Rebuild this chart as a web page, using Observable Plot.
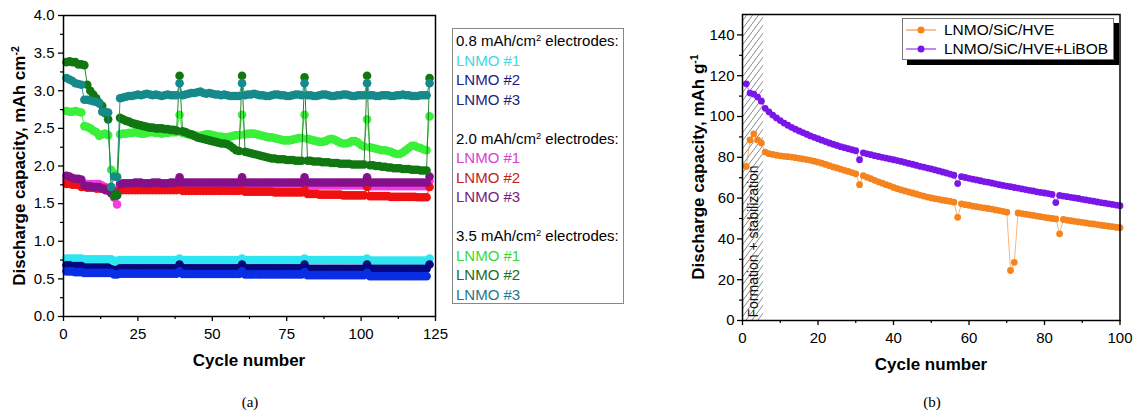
<!DOCTYPE html>
<html><head><meta charset="utf-8">
<script src="https://cdn.jsdelivr.net/npm/d3@7"></script>
<script src="https://cdn.jsdelivr.net/npm/@observablehq/plot@0.6"></script>
<style>
body{margin:0;background:#fff;font-family:"Liberation Sans",Arial,sans-serif;}
#root{position:relative;width:1139px;height:417px;overflow:hidden;background:#fff;}
.panel{position:absolute;top:0;}
.ylab{position:absolute;white-space:nowrap;font-weight:bold;font-size:17px;transform:translate(-50%,-50%) rotate(-90deg);}
.xlab{position:absolute;white-space:nowrap;font-weight:bold;font-size:17px;transform:translate(-50%,-50%);}
.cap{position:absolute;font-family:"Liberation Serif","Times New Roman",serif;font-size:15px;transform:translate(-50%,-50%);}
sup{font-size:0.62em;vertical-align:0.55em;line-height:0;}
#legA{position:absolute;left:452px;top:28px;width:172px;height:276px;border:1px solid #888;box-sizing:border-box;padding:2px 0 0 3px;font-size:15px;line-height:19.5px;white-space:nowrap;background:#fff;}
#legB{position:absolute;left:902px;top:18px;width:212px;height:42px;border:1px solid #777;box-sizing:border-box;background:#fff;box-shadow:5px 5px 0 #000;padding:1px 0 0 2px;font-size:15.5px;line-height:19.3px;white-space:nowrap;}
#legB .row{display:flex;align-items:center;height:19.3px;}
#legB svg{margin-right:7px;}
</style>
</head><body>
<div id="root">
  <div class="panel" id="pa" style="left:0"></div>
  <div class="panel" id="pb" style="left:680px"></div>
  <div id="legA"></div>
  <div id="legB"></div>
  <div class="ylab" style="left:20px;top:166px">Discharge capacity, mAh cm<sup>-2</sup></div>
  <div class="xlab" style="left:249px;top:361px">Cycle number</div>
  <div class="ylab" style="left:699px;top:167px">Discharge capacity, mAh g<sup>-1</sup></div>
  <div class="xlab" style="left:931px;top:365px">Cycle number</div>
  <div class="cap" style="left:250px;top:402px">(a)</div>
  <div class="cap" style="left:932px;top:402px">(b)</div>
</div>
<script>
// ---------- Panel (a) data: discharge capacity (mAh cm^-2) per cycle, cycles 1..n ----------
const cyan08 = [0.77,0.77,0.77,0.77,0.77,0.77, 0.76,0.76,0.76,0.76,0.76,0.76,0.76,0.76,0.76,0.76, 0.74,0.74,
 0.75,0.75,0.75,0.75,0.75,0.75,0.75,0.75,0.75,0.75,0.75,0.75,0.75,0.75,0.75,0.75,0.75,0.75,0.75,0.75, 0.77,
 0.75,0.75,0.75,0.75,0.75,0.75,0.75,0.75,0.75,0.75,0.75,0.75,0.75,0.75,0.75,0.75,0.75,0.75,0.75,0.75, 0.77,
 0.75,0.75,0.75,0.75,0.75,0.75,0.75,0.75,0.75,0.75,0.75,0.75,0.75,0.75,0.75,0.75,0.75,0.75,0.75,0.75, 0.77,
 0.75,0.75,0.75,0.75,0.75,0.75,0.75,0.75,0.75,0.75,0.75,0.75,0.75,0.75,0.75,0.75,0.75,0.75,0.75,0.75, 0.77,
 0.745,0.745,0.745,0.745,0.745,0.745,0.745,0.745,0.745,0.745,0.745,0.745,0.745,0.745,0.745,0.745,0.745,0.745,0.745,0.745, 0.77];
const navy08 = [0.68,0.68,0.67,0.67,0.67,0.67, 0.65,0.65,0.65,0.65,0.65,0.65,0.65,0.65,0.65, 0.63,0.62,0.62,
 0.64,0.64,0.64,0.64,0.64,0.64,0.64,0.64,0.64,0.64,0.64,0.64,0.64,0.64,0.64,0.64,0.64,0.64,0.64,0.64, 0.69,
 0.64,0.64,0.64,0.64,0.64,0.64,0.64,0.64,0.64,0.64,0.64,0.64,0.64,0.64,0.64,0.64,0.64,0.64,0.64,0.64, 0.69,
 0.64,0.64,0.64,0.64,0.64,0.64,0.64,0.64,0.64,0.64,0.64,0.64,0.64,0.64,0.64,0.64,0.64,0.64,0.64,0.64, 0.69,
 0.635,0.635,0.635,0.635,0.635,0.635,0.635,0.635,0.635,0.635,0.635,0.635,0.635,0.635,0.635,0.635,0.635,0.635,0.635,0.635, 0.69,
 0.635,0.635,0.635,0.635,0.635,0.635,0.635,0.635,0.635,0.635,0.635,0.635,0.635,0.635,0.635,0.635,0.635,0.635,0.635,0.635, 0.69];
const blue08 = [0.6,0.6,0.6,0.59,0.59,0.59, 0.58,0.58,0.58,0.58,0.58,0.58,0.58,0.58,0.58,0.58, 0.56,0.56,
 0.57,0.57,0.57,0.57,0.57,0.57,0.57,0.57,0.57,0.57,0.57,0.57,0.57,0.57,0.57,0.57,0.57,0.57,0.57,0.57, 0.6,
 0.565,0.565,0.565,0.565,0.565,0.565,0.565,0.565,0.565,0.565,0.565,0.565,0.565,0.565,0.565,0.565,0.565,0.565,0.565,0.565, 0.6,
 0.56,0.56,0.56,0.56,0.56,0.56,0.56,0.56,0.56,0.56,0.56,0.56,0.56,0.56,0.56,0.56,0.56,0.56,0.56,0.56, 0.59,
 0.55,0.55,0.55,0.55,0.55,0.55,0.55,0.55,0.55,0.55,0.55,0.55,0.55,0.55,0.55,0.55,0.55,0.55,0.55,0.55, 0.58,
 0.535,0.535,0.535,0.535,0.535,0.535,0.535,0.535,0.535,0.535,0.535,0.535,0.535,0.535,0.535,0.535,0.535,0.535,0.535,0.535];
const magenta20 = [1.81,1.8,1.8,1.8,1.79,1.79, 1.76,1.76,1.76,1.76,1.76,1.76, 1.74,1.72,1.7, 1.66,1.58,1.49,
 1.75,1.75,1.75,1.75,1.75,1.75,1.75,1.75,1.75,1.75,1.75,1.75,1.75,1.75,1.75,1.75,1.75,1.75,1.75,1.75, 1.8,
 1.75,1.75,1.75,1.75,1.75,1.75,1.75,1.75,1.75,1.75,1.75,1.75,1.75,1.75,1.75,1.75,1.75,1.75,1.75,1.75, 1.8,
 1.74,1.74,1.74,1.74,1.74,1.74,1.74,1.74,1.74,1.74,1.74,1.74,1.74,1.74,1.74,1.74,1.74,1.74,1.74,1.74, 1.8,
 1.74,1.74,1.74,1.74,1.74,1.74,1.74,1.74,1.74,1.74,1.74,1.74,1.74,1.74,1.74,1.74,1.74,1.74,1.74,1.74, 1.8,
 1.73,1.73,1.73,1.73,1.73,1.73,1.73,1.73,1.73,1.73,1.73,1.73,1.73,1.73,1.73,1.73,1.73,1.73,1.73,1.73, 1.8];
const red20 = [1.76,1.76,1.75,1.75,1.75, 1.72,1.72,1.71,1.71,1.71,1.7,1.7,1.7,1.7,1.69,1.69, 1.67,1.66,
 1.68,1.68,1.68,1.68,1.68,1.68,1.68,1.68,1.68,1.68,1.68,1.68,1.68,1.68,1.68,1.68,1.68,1.68,1.68,1.68, 1.69,
 1.67,1.67,1.67,1.67,1.67,1.67,1.67,1.67,1.67,1.67,1.67,1.67,1.67,1.67,1.67,1.67,1.67,1.67,1.67,1.67, 1.68,
 1.66,1.66,1.66,1.66,1.66,1.66,1.66,1.66,1.66,1.66,1.65,1.65,1.65,1.65,1.65,1.65,1.65,1.65,1.65,1.65, 1.68,
 1.63,1.63,1.63,1.63,1.62,1.62,1.62,1.62,1.62,1.62,1.62,1.62,1.61,1.61,1.61,1.61,1.61,1.61,1.61,1.61, 1.72,
 1.6,1.6,1.6,1.6,1.6,1.6,1.6,1.59,1.59,1.59,1.59,1.59,1.59,1.59,1.59,1.59,1.585,1.585,1.585,1.585, 1.72];
const purple20 = [1.87,1.86,1.84,1.83,1.83,1.82, 1.74,1.73,1.73,1.72,1.72,1.72, 1.7,1.68,1.67, 1.64,1.62,1.61,
 1.76,1.77,1.77,1.77,1.77,1.78,1.78,1.78,1.77,1.77,1.77,1.78,1.78,1.78,1.77,1.77,1.77,1.78,1.78,1.78, 1.85,
 1.78,1.78,1.78,1.78,1.78,1.78,1.78,1.78,1.78,1.78,1.78,1.78,1.78,1.78,1.78,1.78,1.78,1.78,1.78,1.78, 1.85,
 1.78,1.78,1.78,1.78,1.78,1.78,1.78,1.78,1.78,1.78,1.78,1.78,1.78,1.78,1.78,1.78,1.78,1.78,1.78,1.78, 1.85,
 1.78,1.78,1.78,1.78,1.78,1.78,1.78,1.78,1.78,1.78,1.78,1.78,1.78,1.78,1.78,1.78,1.78,1.78,1.78,1.78, 1.85,
 1.78,1.78,1.78,1.78,1.78,1.78,1.78,1.78,1.78,1.78,1.78,1.78,1.78,1.78,1.78,1.78,1.78,1.78,1.78,1.78, 1.86];
const green35_1 = [2.73,2.72,2.72,2.73,2.72,2.71, 2.53,2.52,2.5,2.47,2.45, 2.4,2.42,2.43,2.41, 1.95,1.9,1.86,
 2.42,2.43,2.43,2.44,2.44,2.45,2.44,2.43,2.43,2.44,2.45,2.45,2.44,2.44,2.43,2.44,2.44,2.45,2.45,2.45, 2.68,
 2.44,2.43,2.42,2.41,2.41,2.4,2.4,2.41,2.42,2.42,2.41,2.4,2.39,2.39,2.38,2.38,2.39,2.4,2.41,2.41, 2.68,
 2.42,2.43,2.43,2.43,2.42,2.41,2.4,2.39,2.38,2.38,2.37,2.36,2.35,2.34,2.34,2.34,2.35,2.36,2.37,2.37, 2.68,
 2.36,2.35,2.34,2.33,2.32,2.32,2.33,2.35,2.36,2.35,2.33,2.31,2.3,2.3,2.31,2.33,2.33,2.31,2.28,2.26, 2.62,
 2.25,2.24,2.23,2.22,2.21,2.21,2.2,2.19,2.17,2.16,2.16,2.18,2.21,2.24,2.27,2.27,2.25,2.24,2.22,2.21, 2.66];
const green35_2 = [3.38,3.39,3.38,3.38,3.35,3.35,3.34, 3.08,3.0,2.95,2.9,2.84,2.8,2.7,2.62, 1.72,1.6,1.62,
 2.64,2.62,2.6,2.59,2.57,2.56,2.55,2.54,2.53,2.52,2.51,2.51,2.5,2.5,2.5,2.49,2.49,2.48,2.48,2.47, 3.2,
 2.46,2.45,2.43,2.42,2.4,2.38,2.37,2.36,2.35,2.34,2.33,2.32,2.31,2.3,2.3,2.29,2.27,2.24,2.21,2.2, 3.2,
 2.19,2.18,2.17,2.16,2.15,2.14,2.13,2.12,2.11,2.1,2.1,2.09,2.09,2.09,2.08,2.08,2.08,2.07,2.07,2.07, 3.18,
 2.07,2.07,2.06,2.06,2.06,2.05,2.05,2.05,2.04,2.04,2.04,2.03,2.03,2.03,2.03,2.02,2.02,2.02,2.02,2.02, 3.2,
 2.01,2.01,2.0,2.0,1.99,1.99,1.98,1.98,1.97,1.97,1.97,1.96,1.96,1.96,1.95,1.95,1.95,1.94,1.94,1.94, 3.17];
const teal35_3 = [3.17,3.15,3.13,3.1,3.09,3.08, 2.88,2.88,2.87,2.86,2.85,2.83, 2.72,2.72,2.71, 1.72,1.86,1.85,
 2.9,2.91,2.92,2.93,2.93,2.94,2.95,2.94,2.95,2.96,2.95,2.94,2.95,2.94,2.93,2.94,2.95,2.94,2.94,2.94, 3.1,
 2.94,2.95,2.96,2.97,2.97,2.98,2.99,2.97,2.96,2.97,2.96,2.95,2.95,2.94,2.95,2.94,2.93,2.93,2.93,2.93, 3.1,
 2.94,2.95,2.95,2.96,2.95,2.94,2.94,2.93,2.93,2.94,2.95,2.95,2.94,2.94,2.93,2.93,2.94,2.95,2.95,2.94, 3.1,
 2.94,2.94,2.93,2.93,2.94,2.95,2.95,2.94,2.93,2.93,2.94,2.94,2.95,2.95,2.94,2.93,2.93,2.94,2.94,2.94, 3.1,
 2.94,2.94,2.93,2.93,2.94,2.94,2.94,2.93,2.93,2.94,2.94,2.95,2.94,2.94,2.93,2.93,2.93,2.94,2.94,2.94, 3.1];

const groupTitles = ["0.8", "2.0", "3.5"];
const cellNames = ["LNMO #1", "LNMO #2", "LNMO #3"];
const xTicksA = [0, 25, 50, 75, 100, 125];
const xMinorA = [12.5, 37.5, 62.5, 87.5, 112.5];
const yTicksA = [0, 0.5, 1, 1.5, 2, 2.5, 3, 3.5, 4];
const yMinorA = [0.25, 0.75, 1.25, 1.75, 2.25, 2.75, 3.25, 3.75];

// ---------- Panel (b) data: discharge capacity (mAh g^-1), cycles 1..100 ----------
const hve = [75.5,88.5,91.5,88.5,87,82.5,81.8,81.4,81,80.7,80.5,80.3,80.1,79.8,79.5,79.2,78.9,78.5,78.1,77.6,
 77.1,76.5,75.9,75.3,74.8,74.2,73.6,73.1,72.5,71.9,66.6,71,70.2,69.5,68.7,68,67.3,66.6,66,65.2,
 64.6,64,63.5,63,62.5,62,61.5,61,60.5,60.1,59.7,59.4,59,58.7,58.4,58,50.6,57.2,56.8,56.5,
 56.1,55.8,55.5,55.2,54.9,54.6,54.2,53.9,53.5,53.1,24.5,28.5,52.7,52.4,52.1,51.8,51.5,51.2,50.9,50.6,
 50.3,50,49.8,42.5,49.5,49.2,48.9,48.6,48.3,48.1,47.8,47.5,47.3,47,46.7,46.5,46.2,46,45.7,45.5];
const hveLiBOB = [116,111.5,111,109.5,107.5,104,102.3,100.7,99.3,98,96.8,95.7,94.7,93.8,92.9,92.1,91.3,90.5,89.8,89.1,
 88.4,87.7,87,86.4,85.8,85.2,84.7,84.2,83.7,83.2,78.8,82.2,81.7,81.3,80.8,80.4,80,79.6,79.2,78.8,
 78.4,78,77.5,77,76.6,76.1,75.6,75.2,74.7,74.3,73.8,73.3,72.8,72.3,71.8,71.2,67.1,70.5,70.1,69.7,
 69.3,68.9,68.5,68.1,67.8,67.4,67,66.6,66.2,65.9,65.6,65.2,64.9,64.5,64.2,63.8,63.5,63.1,62.8,62.5,
 62.2,61.8,57.8,61.3,61,60.7,60.4,60.1,59.8,59.4,59.1,58.8,58.5,58.1,57.8,57.5,57.2,56.9,56.6,56.3];
const seriesNamesB = ["LNMO/SiC/HVE", "LNMO/SiC/HVE+LiBOB"];
const formationCycles = [0, 5.6];
const formationLabel = "Formation + stabilization";
const xTicksB = [0, 20, 40, 60, 80, 100];
const xMinorB = [10, 30, 50, 70, 90];
const yTicksB = [0, 20, 40, 60, 80, 100, 120, 140];
const yMinorB = [10, 30, 50, 70, 90, 110, 130];

// ---------- styles ----------
const colorsA = {
  "0.8": ["#2ee6f2", "#06087e", "#0a2ee6"],
  "2.0": ["#f03ce0", "#f01010", "#85108a"],
  "3.5": ["#3af03a", "#117711", "#168a8a"]
};
const legendTextColorsA = {
  "0.8": ["#3fd8e2", "#1c1c84", "#1c2474"],
  "2.0": ["#d840d0", "#c02420", "#7a1a7c"],
  "3.5": ["#38d838", "#236b23", "#23798a"]
};
const colorsB = ["#f5841f", "#7b16e8"];
const font = '"Liberation Sans", Arial, sans-serif';

const valuesA = {"0.8": [cyan08, navy08, blue08], "2.0": [magenta20, red20, purple20], "3.5": [green35_1, green35_2, teal35_3]};

// ---------- Panel (a) ----------
const marksA = [];
for (const g of groupTitles) {
  valuesA[g].forEach((vals, k) => {
    const data = vals.map((v, i) => ({cycle: i + 1, cap: v}));
    const c = colorsA[g][k];
    marksA.push(Plot.line(data, {x: "cycle", y: "cap", stroke: c, strokeWidth: 0.9}));
    marksA.push(Plot.dot(data, {x: "cycle", y: "cap", r: 4.3, fill: c, stroke: "none"}));
  });
}
const plotA = Plot.plot({
  width: 440, height: 350,
  marginLeft: 63, marginRight: 5, marginTop: 15, marginBottom: 34,
  x: {domain: [0, 125], label: null},
  y: {domain: [0, 4], label: null},
  style: {fontFamily: font, fontSize: "15px", color: "#000", background: "transparent", overflow: "visible"},
  marks: [
    ...marksA,
    Plot.frame({stroke: "#000", strokeWidth: 1.5}),
    Plot.axisX({ticks: xTicksA, tickSize: 5, tickPadding: 7, tickFormat: d => String(d), label: null, strokeWidth: 1.3}),
    Plot.axisX({ticks: xMinorA, tickSize: 3, tickFormat: () => "", label: null, strokeWidth: 1.2}),
    Plot.axisY({ticks: yTicksA, tickSize: 5, tickPadding: 4, tickFormat: d => d.toFixed(1), label: null, strokeWidth: 1.3}),
    Plot.axisY({ticks: yMinorA, tickSize: 3, tickFormat: () => "", label: null, strokeWidth: 1.2})
  ]
});
document.getElementById("pa").appendChild(plotA);

// legend (a)
const legA = document.getElementById("legA");
groupTitles.forEach((g, gi) => {
  if (gi > 0) legA.insertAdjacentHTML("beforeend", "<div>&nbsp;</div>");
  legA.insertAdjacentHTML("beforeend", `<div>${g} mAh/cm<sup>2</sup> electrodes:</div>`);
  cellNames.forEach((n, k) => {
    legA.insertAdjacentHTML("beforeend", `<div style="color:${legendTextColorsA[g][k]}">${n}</div>`);
  });
});

// ---------- Panel (b) ----------
const formation = [{x1: formationCycles[0], x2: formationCycles[1], label: formationLabel}];
const marksB = [];
[hve, hveLiBOB].forEach((vals, k) => {
  const data = vals.map((v, i) => ({cycle: i + 1, cap: v}));
  marksB.push(Plot.line(data, {x: "cycle", y: "cap", stroke: colorsB[k], strokeWidth: 0.8, strokeOpacity: 0.75}));
  marksB.push(Plot.dot(data, {x: "cycle", y: "cap", r: 3.4, fill: colorsB[k], stroke: "none"}));
});
const plotB = Plot.plot({
  width: 459, height: 350,
  marginLeft: 62, marginRight: 19.5, marginTop: 14, marginBottom: 30,
  x: {domain: [0, 100], label: null},
  y: {domain: [0, 150], label: null},
  style: {fontFamily: font, fontSize: "15px", color: "#000", background: "transparent", overflow: "visible"},
  marks: [
    Plot.rect(formation, {x1: "x1", x2: "x2", y1: 0, y2: 150, fill: "url(#hatch)", stroke: "none"}),
    Plot.text(formation, {x: d => (d.x1 + d.x2) / 2, y: 0, text: "label", rotate: -90, textAnchor: "start", lineAnchor: "middle", dy: -3, fontSize: 14, fill: "#111"}),
    ...marksB,
    Plot.frame({stroke: "#000", strokeWidth: 1.5}),
    Plot.axisX({ticks: xTicksB, tickSize: 5, tickPadding: 7, tickFormat: d => String(d), label: null, strokeWidth: 1.3}),
    Plot.axisX({ticks: xMinorB, tickSize: 3, tickFormat: () => "", label: null, strokeWidth: 1.2}),
    Plot.axisY({ticks: yTicksB, tickSize: 5, tickPadding: 3, tickFormat: d => String(d), label: null, strokeWidth: 1.3}),
    Plot.axisY({ticks: yMinorB, tickSize: 3, tickFormat: () => "", label: null, strokeWidth: 1.2})
  ]
});
plotB.insertAdjacentHTML("afterbegin",
  '<defs><pattern id="hatch" patternUnits="userSpaceOnUse" width="6" height="8">' +
  '<path d="M0,8 L6,0 M-1,1.33 L1,-1.33 M5,9.33 L7,6.67" stroke="#555" stroke-width="0.7" fill="none"/></pattern></defs>');
document.getElementById("pb").appendChild(plotB);

// legend (b)
const legB = document.getElementById("legB");
seriesNamesB.forEach((n, k) => {
  legB.insertAdjacentHTML("beforeend",
    `<div class="row"><svg width="32" height="10"><line x1="1" y1="5" x2="31" y2="5" stroke="${colorsB[k]}" stroke-width="1"/><circle cx="16" cy="5" r="3.5" fill="${colorsB[k]}"/></svg><span>${n}</span></div>`);
});
</script>
</body></html>
